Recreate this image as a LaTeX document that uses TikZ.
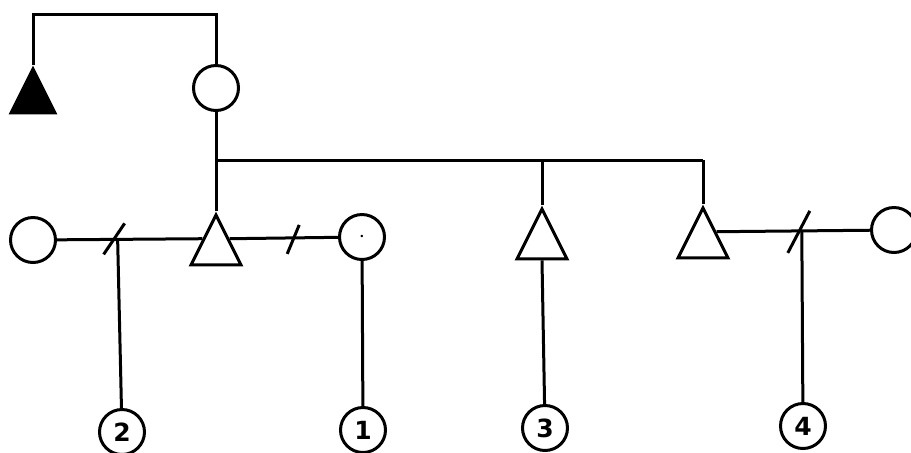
\documentclass[tikz,border=0pt]{standalone}
\usepackage{fontspec}
\setmainfont{DejaVu Sans}
\usetikzlibrary{shapes.geometric,calc}
\begin{document}
\begin{tikzpicture}[x=0.5pt, y=-0.5pt, line width=1.5pt,
    every node/.style={font=\fontsize{12.5}{14}\selectfont\bfseries},
    female/.style={draw, circle, minimum size=22.5pt, inner sep=0pt},
    male/.style={draw, isosceles triangle, isosceles triangle stretches, shape border rotate=90,
      minimum width=25pt, minimum height=25pt, inner sep=0pt, anchor=apex},
    slash/.style={line width=1.5pt}]
  \useasboundingbox (0,0) rectangle (911,452);
  \coordinate (top) at (0,14);
  \coordinate (sib) at (0,160);
  \node (dead)   [male, fill, minimum width=22pt, minimum height=22pt] at (33,65) {};
  \node (mother) [female] at (216,88) {};
  \node (ego)    [male] at (216,211) {};
  \node (broA)   [male] at (542,205) {};
  \node (broB)   [male] at (703,204) {};
  \node (wifeL)  [female] at (33,240) {};
  \node (wifeM)  [female] at (362,237) {$\cdot$};
  \node (wifeR)  [female] at (894,230) {};
  \node (c2) [female] at (122,432) {2};
  \node (c1) [female] at (363,430) {1};
  \node (c3) [female] at (545,428) {3};
  \node (c4) [female] at (803,426) {4};
  % parents
  \draw (dead.apex) -- (dead.apex |- top) -- (mother.north |- top) -- (mother);
  \draw (mother) -- (ego.apex);
  % siblings
  \draw (ego.apex |- sib) -- (broB.apex |- sib);
  \draw (broA.apex |- sib) -- (broA.apex);
  \draw (broB.apex |- sib) -- (broB.apex);
  % marriages
  \draw (wifeL) -- (ego.left side);
  \draw (ego.right side) -- (wifeM);
  \draw (broB.right side) -- (wifeR);
  \coordinate (m2) at ($(wifeL)!0.5!(ego.left side)$);
  \coordinate (m1) at ($(ego.right side)!0.48!(wifeM)$);
  \coordinate (m4) at ($(broB.right side)!0.48!(wifeR)$);
  \draw[slash] ($(m2)+(-14,15)$) -- ($(m2)+(7,-16)$);
  \draw[slash] ($(m1)+(-6,16)$) -- ($(m1)+(6,-13)$);
  \draw[slash] ($(m4)+(-14,22)$) -- ($(m4)+(8,-20)$);
  % children
  \draw (m2) -- (c2);
  \draw (wifeM) -- (c1);
  \draw (broA.lower side) -- (c3);
  \draw (m4) -- (c4);
\end{tikzpicture}
\end{document}
